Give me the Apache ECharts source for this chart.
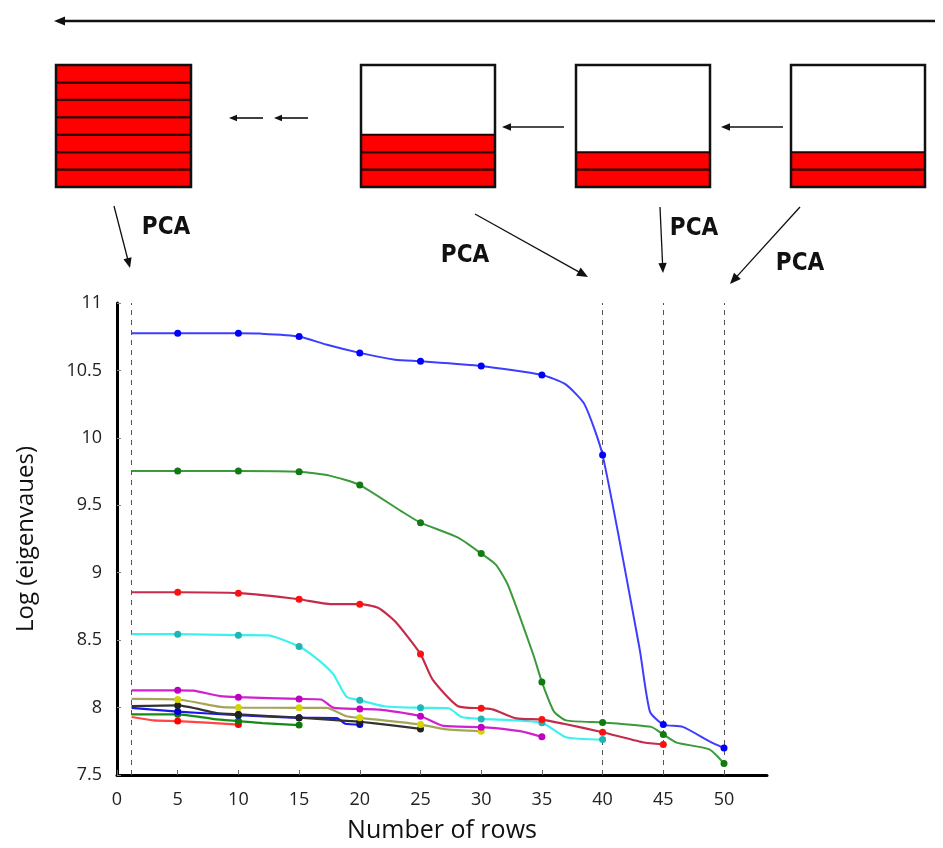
<!DOCTYPE html>
<html><head><meta charset="utf-8">
<script src="https://cdn.jsdelivr.net/npm/echarts@6/dist/echarts.min.js"></script>
<style>html,body{margin:0;padding:0;background:#fff}#c{width:943px;height:848px}</style>
</head><body><div id="c"></div>
<script>
// ---- data (x = number of rows, y = log eigenvalue); markers drawn at multiples of 5 ----
const xTickValues = [0, 5, 10, 15, 20, 25, 30, 35, 40, 45, 50];
const dashedRows = [1.2, 40, 45, 50];
const seriesNames = ['blue', 'green', 'crimson', 'cyan', 'magenta', 'olive', 'black', 'darkblue', 'darkgreen', 'red'];
const blueData = [[1.2,10.775],[5,10.775],[10,10.775],[11.8,10.773],[15,10.752],[17.3,10.69],[20,10.63],[22.9,10.58],[25,10.568],[30,10.533],[35,10.466],[36.9,10.40],[38.5,10.25],[40,9.872],[43.06,8.43],[43.9,7.97],[45,7.874],[46.6,7.857],[48.8,7.75],[50,7.70]];
const greenData = [[1.2,9.754],[5,9.754],[10,9.754],[15,9.749],[17.5,9.72],[20,9.65],[23.4,9.457],[25,9.371],[28.1,9.26],[30,9.142],[31.2,9.06],[32.2,8.91],[34.3,8.39],[35,8.19],[36,7.97],[37,7.905],[40,7.89],[44,7.857],[45,7.80],[46.1,7.74],[48.8,7.69],[50,7.585]];
const crimsonData = [[1.2,8.855],[5,8.855],[10,8.848],[15,8.803],[17.6,8.767],[20,8.767],[21.5,8.74],[22.9,8.64],[25,8.397],[26,8.207],[28.1,8.01],[30,7.995],[31,7.985],[32.9,7.92],[35,7.911],[36.8,7.88],[40,7.817],[43.3,7.743],[45,7.726]];
const cyanData = [[1.2,8.544],[5,8.544],[10,8.537],[12.4,8.535],[15,8.453],[16.5,8.36],[17.8,8.25],[18.9,8.08],[20,8.054],[22,8.01],[25,7.998],[27.3,7.995],[28.4,7.93],[30,7.916],[35,7.887],[37,7.78],[40,7.763]];
const magentaData = [[1.2,8.128],[5,8.128],[6.3,8.125],[8.5,8.085],[10,8.077],[15,8.064],[16.8,8.06],[17.8,8.0],[20,7.99],[21.6,7.985],[25,7.936],[26.9,7.864],[30,7.855],[33.2,7.825],[35,7.783]];
const oliveData = [[1.2,8.064],[5,8.06],[8.5,8.005],[10,8.0],[15,7.998],[17.25,7.998],[18.9,7.936],[20,7.924],[25,7.874],[27,7.84],[30,7.824]];
const blackData = [[1.2,8.01],[5,8.016],[8.2,7.96],[10,7.95],[15,7.925],[19.2,7.90],[20,7.895],[22.5,7.87],[25,7.842]];
const darkblueData = [[1.2,7.998],[5,7.97],[10,7.943],[15,7.924],[18.1,7.922],[18.8,7.88],[20,7.874]];
const darkgreenData = [[1.2,7.95],[5,7.95],[8,7.915],[10,7.90],[12,7.885],[15,7.87]];
const redData = [[1.2,7.93],[3,7.905],[5,7.90],[10,7.874]];
const allData = [blueData, greenData, crimsonData, cyanData, magentaData, oliveData, blackData, darkblueData, darkgreenData, redData];

// ---- styles ----
const lineColors = ['#3d3dff', '#3a9a3a', '#c42c4c', '#3ff0f0', '#d020d0', '#a5a55a', '#333333', '#1a1aee', '#168a16', '#ff4545'];
const markerColors = ['#0000ff', '#127a12', '#ff1010', '#1fb5b5', '#c000c0', '#d4d400', '#222222', '#0000dd', '#0b7a0b', '#ff0000'];

const series = allData.map((d, i) => ({
  name: seriesNames[i], type: 'line', data: d, smooth: 0.2,
  symbol: 'circle',
  symbolSize: v => (Math.abs(v[0] % 5) < 1e-9 ? 7 : 0),
  lineStyle: { color: lineColors[i], width: i < 2 ? 2 : 2.2 },
  itemStyle: { color: markerColors[i] },
  z: 10 - i, animation: false
}));
series[0].markLine = {
  silent: true, symbol: ['none', 'none'], label: { show: false },
  lineStyle: { color: '#555', type: [5, 5], width: 1 },
  data: dashedRows.map(r => ({ xAxis: r })), animation: false
};

// ---- top diagram (decoration) ----
const g = [];
function arrow(x1, y1, x2, y2, w, head) {
  const dx = x2 - x1, dy = y2 - y1, L = Math.hypot(dx, dy), ux = dx / L, uy = dy / L;
  const bx = x2 - ux * head, by = y2 - uy * head, px = -uy * head * 0.42, py = ux * head * 0.42;
  g.push({ type: 'line', shape: { x1, y1, x2: bx + ux * 2, y2: by + uy * 2 }, style: { stroke: '#111', lineWidth: w } });
  g.push({ type: 'polygon', shape: { points: [[x2, y2], [bx + px, by + py], [bx - px, by - py]] }, style: { fill: '#111' } });
}
function block(x, y, w, h, total, red) {
  const sh = h / total;
  g.push({ type: 'rect', shape: { x, y, width: w, height: h }, style: { fill: '#fff', stroke: 'none' } });
  for (let k = 0; k < red; k++) {
    const sy = y + h - (k + 1) * sh;
    g.push({ type: 'rect', shape: { x, y: sy, width: w, height: sh }, style: { fill: '#ff0000', stroke: '#2a0000', lineWidth: 2 } });
  }
  g.push({ type: 'rect', shape: { x, y, width: w, height: h }, style: { fill: 'none', stroke: '#111', lineWidth: 2.5 } });
}
block(56, 65, 135, 122, 7, 7);
block(361, 65, 134, 122, 7, 3);
block(576, 65, 134, 122, 7, 2);
block(791, 65, 134, 122, 7, 2);
arrow(935, 21, 54, 21, 2.5, 11);
arrow(263, 118, 229, 118, 1.6, 8);
arrow(308, 118, 274, 118, 1.6, 8);
arrow(564, 127, 502, 127, 1.6, 9);
arrow(783, 127, 721, 127, 1.6, 9);
arrow(114, 206, 130, 268, 1.3, 10);
arrow(475, 214, 588, 277, 1.3, 11);
arrow(660, 207, 663, 273, 1.3, 10);
arrow(800, 207, 730, 284, 1.3, 11);
const pcaFont = "bold 24px 'Liberation Sans Narrow', 'DejaVu Sans Condensed', 'Liberation Sans', sans-serif";
[[166, 228], [465, 256], [694, 229], [800, 264]].forEach(p => g.push({
  type: 'text', x: p[0], y: p[1],
  style: { text: 'PCA', font: pcaFont, fill: '#111', align: 'center', verticalAlign: 'middle' }
}));

const chart = echarts.init(document.getElementById('c'), null, { renderer: 'canvas' });
chart.setOption({
  backgroundColor: '#fff',
  animation: false,
  grid: { left: 117, top: 303, width: 650, height: 472, containLabel: false, outerBoundsMode: 'none' },
  xAxis: {
    type: 'value', min: 0, max: 650 / 12.14,
    name: 'Number of rows', nameLocation: 'middle', nameGap: 43,
    nameTextStyle: { fontFamily: 'Open Sans', fontSize: 25, color: '#111' },
    axisLine: { show: true, onZero: false, lineStyle: { color: '#000', width: 3 } },
    axisTick: { show: true, inside: true, length: 5, customValues: xTickValues, lineStyle: { color: '#666' } },
    axisLabel: { customValues: xTickValues, margin: 16, fontFamily: 'Open Sans', fontSize: 18, color: '#222' },
    splitLine: { show: false }
  },
  yAxis: {
    type: 'value', min: 7.5, max: 11, interval: 0.5,
    name: 'Log (eigenvaues)', nameLocation: 'middle', nameGap: 79, nameRotate: 90,
    nameTextStyle: { fontFamily: 'Open Sans', fontSize: 24, color: '#111' },
    axisLine: { show: true, onZero: false, lineStyle: { color: '#000', width: 3 } },
    axisTick: { show: true, inside: true, length: 4, lineStyle: { color: '#888' } },
    axisLabel: { margin: 15, fontFamily: 'Open Sans', fontSize: 18, color: '#222' },
    splitLine: { show: false }
  },
  graphic: g,
  series: series
});
</script></body></html>
